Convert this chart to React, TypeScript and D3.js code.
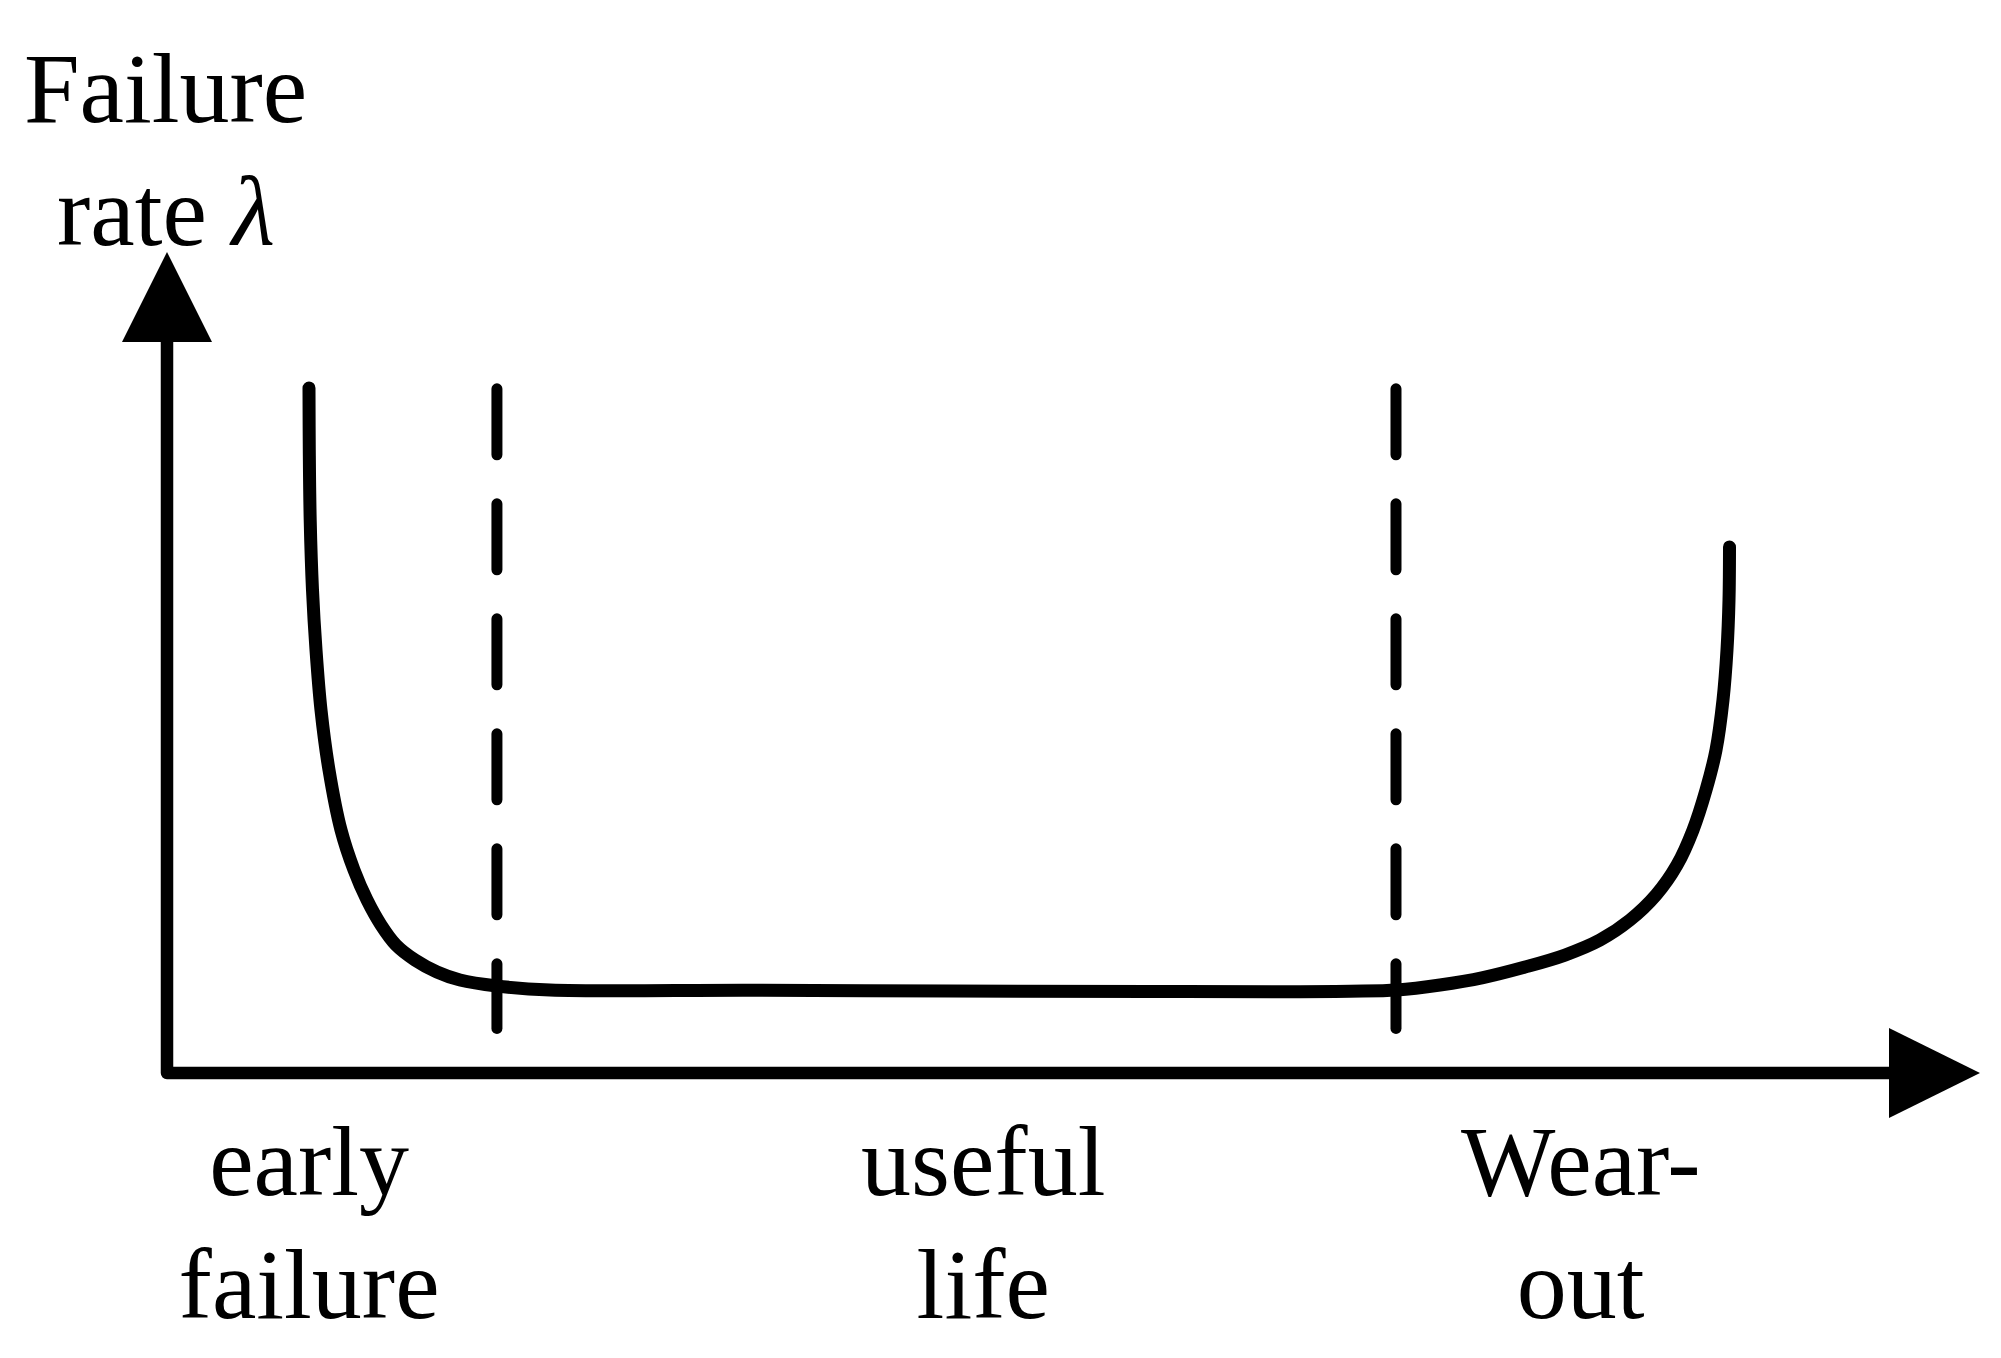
import React from "react";
import * as d3 from "d3";

// Bathtub curve: time (arbitrary units 0..100) vs failure rate (arbitrary units 0..100)
const curveTime = [
  8.246, 8.263, 8.316, 8.449, 8.653, 8.943, 9.408, 10.105, 10.86, 11.614, 12.427, 13.298, 14.402, 15.679, 17.015, 19.164, 22.241,
  33.856, 45.47, 57.085, 65.796, 68.699, 71.429,
  73.926, 76.423, 78.862, 81.185, 83.217, 84.959, 86.469, 87.689, 88.618, 89.373, 89.954, 90.36, 90.592, 90.709, 90.738,
];
const curveRate = [
  93.71, 85.23, 75.65, 66.07, 57.87, 49.66, 41.45, 33.24, 27.77, 23.67, 20.25, 17.51, 15.46, 13.82, 12.72, 11.9, 11.35,
  11.31, 11.22, 11.15, 11.11, 11.19, 11.35,
  12.04, 13.06, 14.5, 16.14, 18.19, 20.93, 24.35, 28.45, 33.24, 38.71, 44.19, 51.03, 57.87, 64.71, 71.96,
];

// Phase boundaries (time) and their vertical extent (rate)
const boundaryTimes = [19.16, 71.37];
const boundaryRateRange = [6.1, 93.6];

// Phase labels: [line1, line2] and centre time
const phaseLines1 = ["early", "useful", "Wear-"];
const phaseLines2 = ["failure", "life", "out"];
const phaseCenters = [8.25, 47.4, 82.1];

const yTitle1 = "Failure";
const yTitle2 = "rate ";
const yTitleSymbol = "λ";

export default function App() {
  const W = 2001;
  const H = 1358;
  const x = d3.scaleLinear().domain([0, 100]).range([167, 1889]);
  const y = d3.scaleLinear().domain([0, 100]).range([1073, 342]);

  const pts: [number, number][] = curveTime.map((t, i) => [t, curveRate[i]]);
  const line = d3
    .line<[number, number]>()
    .x((d) => x(d[0]))
    .y((d) => y(d[1]))
    .curve(d3.curveCatmullRom.alpha(0.5));

  const x0 = x(0);
  const y0 = y(0);
  const xEnd = x(100);
  const yEnd = y(100);
  const arrow = 90;

  const font = "'Liberation Serif', 'Times New Roman', serif";

  return (
    <svg
      width={W}
      height={H}
      viewBox={`0 0 ${W} ${H}`}
      style={{ position: "absolute", left: 0, top: 0, background: "#fff" }}
    >
      <rect x={0} y={0} width={W} height={H} fill="#fff" />
      {/* axes */}
      <path
        d={`M${x0},${yEnd} L${x0},${y0} L${xEnd},${y0}`}
        fill="none"
        stroke="#000"
        strokeWidth={12.5}
        strokeLinejoin="round"
      />
      <path
        d={`M${x0},${yEnd - arrow} L${x0 - arrow / 2},${yEnd} L${x0 + arrow / 2},${yEnd} Z`}
        fill="#000"
      />
      <path
        d={`M${xEnd + arrow + 1},${y0} L${xEnd},${y0 - arrow / 2} L${xEnd},${y0 + arrow / 2} Z`}
        fill="#000"
      />
      {/* boundaries */}
      {boundaryTimes.map((t, i) => (
        <line
          key={i}
          x1={x(t)}
          x2={x(t)}
          y1={y(boundaryRateRange[1])}
          y2={y(boundaryRateRange[0])}
          stroke="#000"
          strokeWidth={11}
          strokeDasharray="66 49"
          strokeLinecap="round"
        />
      ))}
      {/* bathtub curve */}
      <path
        d={line(pts) || ""}
        fill="none"
        stroke="#000"
        strokeWidth={13}
        strokeLinecap="round"
        strokeLinejoin="round"
      />
      {/* y title */}
      <text x={24} y={122} fontFamily={font} fontSize={100} fill="#000">
        {yTitle1}
      </text>
      <text x={57} y={245} fontFamily={font} fontSize={100} fill="#000">
        {yTitle2}
        <tspan fontStyle="italic">{yTitleSymbol}</tspan>
      </text>
      {/* phase labels */}
      {phaseCenters.map((c, i) => (
        <g key={i}>
          <text x={x(c)} y={1195} textAnchor="middle" fontFamily={font} fontSize={100} fill="#000">
            {phaseLines1[i]}
          </text>
          <text x={x(c)} y={1318} textAnchor="middle" fontFamily={font} fontSize={100} fill="#000">
            {phaseLines2[i]}
          </text>
        </g>
      ))}
    </svg>
  );
}
